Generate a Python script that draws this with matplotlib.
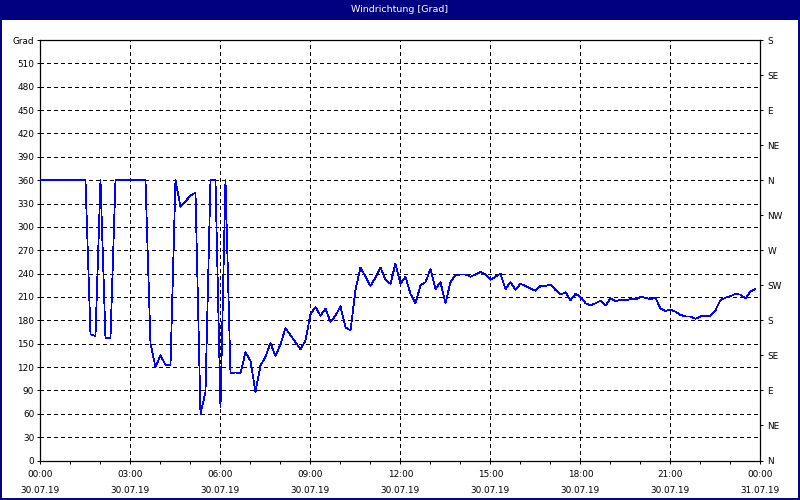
import numpy as np
import pandas as pd
import matplotlib
matplotlib.use("Agg")
import matplotlib.pyplot as plt
import matplotlib.dates as mdates
from matplotlib.patches import Rectangle


# ==========================
# Daten (10-Minuten-Werte, 30.07.19)
# ==========================

title = "Windrichtung [Grad]"
start_time = "2019-07-30 00:00"
end_time = "2019-07-31 00:00"

wind_dir = [
    360, 360, 360, 360, 360, 360, 360, 360, 360, 360,
    162, 160, 360, 157, 157,
    360, 360, 360, 360, 360, 360, 360,
    150, 120, 135, 123, 122, 360, 326, 333, 340, 344,
    60, 88, 360, 360, 68, 360, 112, 113, 112, 139,
    128, 88, 122, 133, 151, 134, 149, 170, 161, 152,
    143, 154, 188, 197, 186, 195, 178, 186, 198, 171,
    167, 219, 248, 236, 224, 235, 248, 232, 227, 253,
    227, 236, 214, 202, 225, 229, 246, 220, 229, 202,
    229, 238, 239, 239, 236, 239, 242, 239, 232, 236,
    240, 220, 229, 219, 227, 224, 221, 218, 224, 224,
    226, 219, 213, 216, 206, 214, 210, 202, 199, 202,
    205, 199, 208, 205, 206, 206, 207, 207, 210, 209,
    207, 209, 195, 192, 194, 191, 187, 185, 185, 182,
    185, 186, 186, 193, 206, 209, 211, 214, 213, 208,
    217, 220,
]

left_ticks = list(range(0, 541, 30))
left_labels = [str(v) for v in left_ticks[:-1]] + ["Grad"]

right_ticks = list(range(0, 541, 45))
right_labels = ["N", "NE", "E", "SE", "S", "SW", "W", "NW",
                "N", "NE", "E", "SE", "S"]

times = pd.date_range(start_time, periods=len(wind_dir), freq="10min")

navy = "#000080"
font_size = 6.4


# ==========================
# Plot
# ==========================

fig = plt.figure(figsize=(8, 5), dpi=100)
fig.patch.set_facecolor("white")

# Titelleiste
fig.patches.append(Rectangle((0, 0.96), 1, 0.04, transform=fig.transFigure,
                             facecolor=navy, edgecolor="none", zorder=0))
fig.text(0.5, 0.981, title, color="white", ha="center", va="center",
         fontsize=6.8)
# Rahmen
fig.patches.append(Rectangle((0.001, 0.002), 0.998, 0.996, transform=fig.transFigure,
                             facecolor="none", edgecolor=navy, linewidth=1.4,
                             zorder=5))

ax = fig.add_axes([0.0506, 0.079, 0.9, 0.841])
ax.plot(times, wind_dir, color="#0000ff", linewidth=0.55, antialiased=False,
        zorder=3)

ax.set_xlim(pd.Timestamp(start_time), pd.Timestamp(end_time))
ax.set_ylim(0, 540)

ax.xaxis.set_major_locator(mdates.HourLocator(interval=3))
ax.xaxis.set_minor_locator(mdates.HourLocator(interval=1))
ax.xaxis.set_major_formatter(mdates.DateFormatter("%H:%M\n%d.%m.%y"))

ax.set_yticks(left_ticks)
ax.set_yticklabels(left_labels)

ax.grid(True, which="major", color="black", linestyle=(0, (3, 3)),
        linewidth=0.72, antialiased=False)

for spine in ax.spines.values():
    spine.set_color("black")
    spine.set_linewidth(0.9)

ax.tick_params(axis="both", which="both", direction="out", length=2.5,
               width=0.72, labelsize=font_size, colors="black", pad=2)
ax.tick_params(axis="x", which="major", pad=4)
plt.setp(ax.get_xticklabels(), linespacing=2.0)

ax_r = ax.twinx()
ax_r.set_ylim(0, 540)
ax_r.set_yticks(right_ticks)
ax_r.set_yticklabels(right_labels)
ax_r.tick_params(axis="y", direction="out", length=2.5, width=0.72,
                 labelsize=font_size, pad=2.5)
for spine in ax_r.spines.values():
    spine.set_visible(False)

plt.savefig("out.png", dpi=100)
plt.close()
